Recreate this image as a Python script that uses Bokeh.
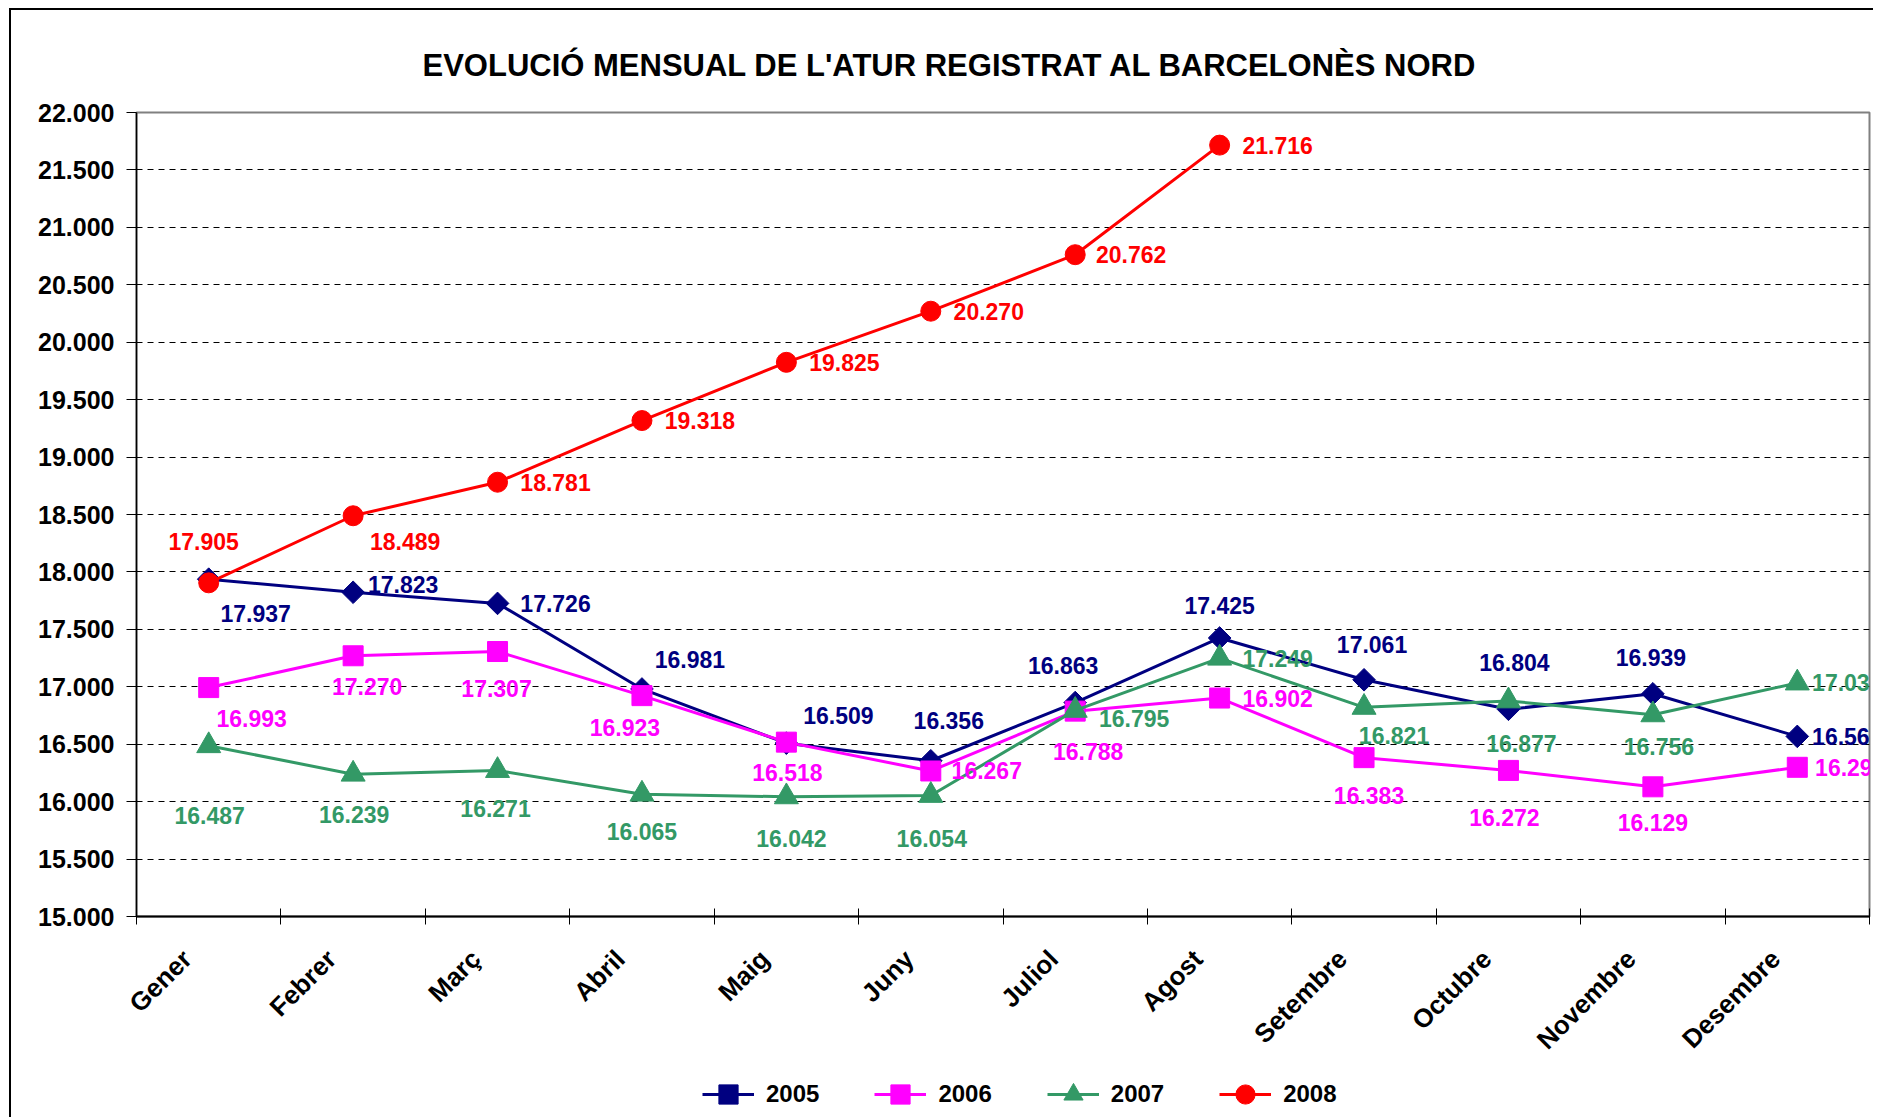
import math
from bokeh.plotting import figure
from bokeh.layouts import column
from bokeh.models import (ColumnDataSource, FixedTicker, Legend, LegendItem, LabelSet, Range1d)
from bokeh.core.properties import value
from bokeh.embed import file_html
from bokeh.resources import INLINE

# ---------------- data ----------------
months = ["Gener", "Febrer", "Març", "Abril", "Maig", "Juny", "Juliol", "Agost",
          "Setembre", "Octubre", "Novembre", "Desembre"]
y2005 = [17937, 17823, 17726, 16981, 16509, 16356, 16863, 17425, 17061, 16804, 16939, 16568]
y2006 = [16993, 17270, 17307, 16923, 16518, 16267, 16788, 16902, 16383, 16272, 16129, 16299]
y2007 = [16487, 16239, 16271, 16065, 16042, 16054, 16795, 17249, 16821, 16877, 16756, 17033]
y2008 = [17905, 18489, 18781, 19318, 19825, 20270, 20762, 21716]
y_ticks = [15000, 15500, 16000, 16500, 17000, 17500, 18000, 18500, 19000, 19500,
           20000, 20500, 21000, 21500, 22000]
title_text = "EVOLUCIÓ MENSUAL DE L'ATUR REGISTRAT AL BARCELONÈS NORD"

# ---------------- label placement (screen px, +down) ----------------
off2005 = [(47, 34), (50, -8), (58, 0), (48, -29), (52, -28), (18, -40), (-12, -37),
           (0, -32), (8, -35), (6, -47), (-2, -36), (50, 0)]
off2006 = [(43, 31), (14, 31), (-1, 37), (-17, 32), (1, 30), (56, 0), (13, 40),
           (58, 0), (5, 38), (-4, 47), (0, 36), (53, 0)]
off2007 = [(1, 70), (1, 40), (-2, 38), (0, 37), (5, 42), (1, 43), (59, 8),
           (58, 0), (30, 28), (13, 43), (6, 32), (50, 0)]
off2008 = [(-5, -41), (52, 26), (58, 0), (58, 0), (58, 0), (58, 0), (56, 0), (58, 0)]

FONT = "Liberation Sans"


def fmt(v):
    return f"{v:,}".replace(",", ".")


p = figure(frame_width=1733, frame_height=804, output_backend="svg", toolbar_location=None,
           x_range=Range1d(0, len(months)), y_range=Range1d(y_ticks[0], y_ticks[-1]),
           min_border_left=125, min_border_right=4, min_border_top=102, min_border_bottom=154)

p.title.text = title_text
p.title.align = "left"
p.title.text_font = FONT
p.title.text_font_size = "31px"
p.title.text_font_style = "bold"
p.title.text_color = "black"
p.title.standoff = 60
p.title.offset = 286

p.outline_line_color = "#808080"
p.outline_line_width = 2
p.background_fill_color = "white"
p.border_fill_color = "white"

# x axis (labels slightly left of category centre, boundary ticks as minor ticks)
xa = p.xaxis[0]
xa.ticker = FixedTicker(ticks=[i + 0.35 for i in range(len(months))],
                        minor_ticks=list(range(len(months) + 1)))
xa.major_label_overrides = {i + 0.35: m for i, m in enumerate(months)}
xa.major_tick_in = 0
xa.major_tick_out = 0
xa.minor_tick_in = 8
xa.minor_tick_out = 8
xa.minor_tick_line_color = "black"
xa.minor_tick_line_width = 1
xa.axis_line_color = "black"
xa.axis_line_width = 2
xa.major_label_orientation = math.pi / 4
xa.major_label_text_font = FONT
xa.major_label_text_font_size = "26px"
xa.major_label_text_font_style = "bold"
xa.major_label_text_color = "black"
xa.major_label_standoff = 30

# y axis
ya = p.yaxis[0]
ya.ticker = FixedTicker(ticks=y_ticks)
ya.major_label_overrides = {t: fmt(t) for t in y_ticks}
ya.major_tick_in = 0
ya.major_tick_out = 10
ya.major_tick_line_color = "black"
ya.minor_tick_line_color = None
ya.axis_line_color = "black"
ya.axis_line_width = 1.5
ya.major_label_text_font = FONT
ya.major_label_text_font_size = "25px"
ya.major_label_text_font_style = "bold"
ya.major_label_text_color = "black"
ya.major_label_standoff = 12

p.xgrid.grid_line_color = None
p.ygrid.ticker = FixedTicker(ticks=y_ticks[1:-1])
p.ygrid.grid_line_color = "black"
p.ygrid.grid_line_dash = "6 5"
p.ygrid.grid_line_width = 1

series = [
    ("2005", y2005, off2005, "#000080", dict(marker="square", size=16, angle=math.pi / 4)),
    ("2006", y2006, off2006, "#FF00FF", dict(marker="square", size=20)),
    ("2007", y2007, off2007, "#339966", dict(marker="triangle", size=24)),
    ("2008", y2008, off2008, "#FF0000", dict(marker="circle", size=20)),
]

# legend strip underneath the chart (its ranges keep the series' own marks out of view)
pl = figure(width=1862, height=48, output_backend="svg", toolbar_location=None,
            x_range=Range1d(-2, -1), y_range=Range1d(0, 1),
            x_axis_type=None, y_axis_type=None, min_border=0)
pl.outline_line_color = None
pl.grid.grid_line_color = None
pl.background_fill_color = "white"
pl.border_fill_color = "white"

items = []
for name, vals, offs, color, mk in series:
    xs = [i + 0.5 for i in range(len(vals))]
    src = ColumnDataSource(dict(
        x=xs, y=vals, txt=[fmt(v) for v in vals],
        dx=[o[0] for o in offs], dy=[-o[1] for o in offs]))
    p.line("x", "y", source=src, line_color=color, line_width=3)
    p.scatter("x", "y", source=src, fill_color=color, line_color=color, **mk)
    labels = LabelSet(x="x", y="y", text="txt", source=src, x_offset="dx", y_offset="dy",
                      text_align="center", text_baseline="middle", text_color=color,
                      text_font=value(FONT), text_font_size=value("23px"),
                      text_font_style="bold")
    p.add_layout(labels)
    # same glyph styles (same data) in the legend strip
    lr = pl.line("x", "y", source=src, line_color=color, line_width=3)
    sr = pl.scatter("x", "y", source=src, fill_color=color, line_color=color, **mk)
    items.append(LegendItem(label=name, renderers=[lr, sr]))

legend = Legend(items=items, orientation="horizontal", location=(566, 0),
                border_line_color=None, background_fill_alpha=0,
                glyph_width=52, glyph_height=48, label_standoff=12, spacing=55,
                label_text_font=FONT, label_text_font_size="24px",
                label_text_font_style="bold", label_text_color="black",
                padding=0, margin=0)
pl.add_layout(legend, "center")

layout = column(p, pl, spacing=0)
# outer chart frame (left / top edges) like the original workbook chart
layout.styles = {"margin-left": "9px", "margin-top": "8px",
                 "border-left": "2px solid black", "border-top": "2px solid black"}

open("out.html", "w").write(file_html(layout, INLINE))
